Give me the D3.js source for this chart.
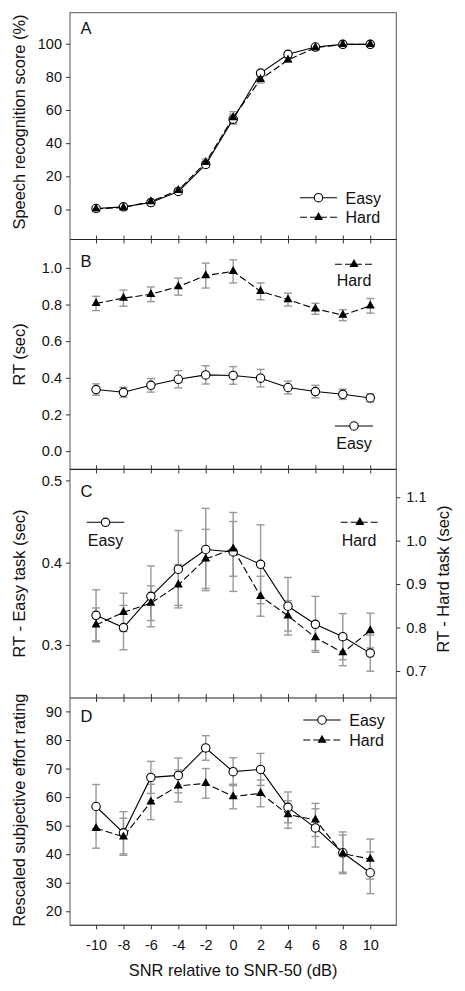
<!DOCTYPE html>
<html>
<head>
<meta charset="utf-8">
<script src="https://cdn.jsdelivr.net/npm/d3@7"></script>
<style>
  html, body { margin: 0; padding: 0; background: #fff; }
  svg { display: block; font-family: "Liberation Sans", Arial, sans-serif; }
</style>
</head>
<body>
<svg id="chart" width="465" height="991"></svg>
<script>
// ---------- data ----------
const snr = [-10, -8, -6, -4, -2, 0, 2, 4, 6, 8, 10];

const scoreEasy   = [0.6, 1.6, 4.2, 10.9, 27.2, 54.5, 82.3, 93.6, 98.0, 99.6, 99.6];
const scoreEasySE = [0.3, 0.4, 0.6, 1.0, 1.8, 3.0, 1.5, 1.0, 0.6, 0.3, 0.3];
const scoreHard   = [0.4, 1.2, 4.8, 11.6, 28.4, 55.5, 78.5, 90.2, 97.6, 99.6, 99.6];
const scoreHardSE = [0.3, 0.4, 0.6, 1.0, 2.0, 3.5, 2.2, 1.3, 0.7, 0.3, 0.3];

const rtEasy   = [0.336, 0.321, 0.359, 0.392, 0.416, 0.413, 0.398, 0.347, 0.325, 0.310, 0.290];
const rtEasySE = [0.031, 0.027, 0.037, 0.047, 0.050, 0.048, 0.048, 0.035, 0.034, 0.028, 0.022];
const rtHard   = [0.806, 0.835, 0.856, 0.898, 0.958, 0.981, 0.872, 0.827, 0.777, 0.742, 0.793];
const rtHardSE = [0.039, 0.044, 0.040, 0.047, 0.068, 0.063, 0.046, 0.035, 0.030, 0.030, 0.040];

const effortEasy   = [56.7, 47.5, 66.9, 67.6, 77.2, 68.9, 69.7, 56.4, 49.2, 40.5, 33.5];
const effortEasySE = [7.7, 7.4, 5.6, 6.1, 4.3, 4.9, 5.6, 5.4, 6.7, 7.3, 7.3];
const effortHard   = [49.1, 46.1, 58.3, 63.9, 64.8, 60.2, 61.3, 53.9, 52.0, 40.2, 38.3];
const effortHardSE = [7.0, 6.5, 6.2, 5.6, 5.2, 4.3, 4.7, 4.8, 5.8, 6.5, 7.0];

const ticksA = [0, 20, 40, 60, 80, 100];
const ticksB = [0.0, 0.2, 0.4, 0.6, 0.8, 1.0];
const ticksCLeft = [0.3, 0.4, 0.5];
const ticksCRight = [0.7, 0.8, 0.9, 1.0, 1.1];
const ticksD = [20, 30, 40, 50, 60, 70, 80, 90];

// ---------- layout ----------
const svg = d3.select("#chart");
const L = 70, R = 396.3;
const yA = [12.7, 239.5], yB = [239.5, 469.4], yC = [469.4, 698], yD = [698, 925.3];

const x = d3.scaleLinear().domain([-11.9, 11.9]).range([L, R]);
const sA = d3.scaleLinear().domain([-18.1, 118.7]).range([yA[1], yA[0]]);
const sB = d3.scaleLinear().domain([-0.1, 1.155]).range([yB[1], yB[0]]);
const sCL = d3.scaleLinear().domain([0.2354, 0.5134]).range([yC[1], yC[0]]);
const sCR = d3.scaleLinear().domain([0.6377, 1.164]).range([yC[1], yC[0]]);
const sD = d3.scaleLinear().domain([15.1, 94.7]).range([yD[1], yD[0]]);

const FS_TICK = 14.5, FS_TITLE = 16.4, FS_LEG = 16, FS_LET = 16.5;
const fmtInt = d => String(d);
const fmt1 = d => d.toFixed(1);

// frame
svg.append("rect").attr("x", L).attr("y", yA[0]).attr("width", R - L).attr("height", yD[1] - yA[0])
  .attr("fill", "none").attr("stroke", "#555").attr("stroke-width", 1);

function styleAxis(g) {
  g.select(".domain").remove();
  g.selectAll(".tick line").attr("stroke", "#333");
  g.selectAll(".tick text").attr("fill", "#111").attr("font-size", FS_TICK)
    .attr("font-family", "Liberation Sans, Arial, sans-serif");
}

// x axes at each panel bottom
[yA[1], yB[1], yC[1]].forEach(yy => {
  svg.append("line").attr("x1", L).attr("x2", R).attr("y1", yy).attr("y2", yy)
    .attr("stroke", "#222").attr("stroke-width", 1.1);
  const g = svg.append("g").attr("transform", `translate(0,${yy})`)
    .call(d3.axisBottom(x).tickValues(snr).tickSize(4).tickFormat(""));
  styleAxis(g);
  g.selectAll(".tick line").attr("y1", -4).attr("y2", 4);
});
svg.append("line").attr("x1", L).attr("x2", R).attr("y1", yD[1]).attr("y2", yD[1])
  .attr("stroke", "#444").attr("stroke-width", 1.1);
const gx = svg.append("g").attr("transform", `translate(0,${yD[1]})`)
  .call(d3.axisBottom(x).tickValues(snr).tickSize(4).tickPadding(10).tickFormat(fmtInt));
styleAxis(gx);

// y axes
function yAxis(scale, ticks, fmt) {
  const g = svg.append("g").attr("transform", `translate(${L},0)`)
    .call(d3.axisLeft(scale).tickValues(ticks).tickSize(4).tickPadding(4).tickFormat(fmt));
  styleAxis(g);
}
yAxis(sA, ticksA, fmtInt);
yAxis(sB, ticksB, fmt1);
yAxis(sCL, ticksCLeft, fmt1);
yAxis(sD, ticksD, fmtInt);
const gr = svg.append("g").attr("transform", `translate(${R},0)`)
  .call(d3.axisRight(sCR).tickValues(ticksCRight).tickSize(4).tickPadding(6).tickFormat(fmt1));
styleAxis(gr);

// axis titles
function vTitle(txt, cx, cy) {
  svg.append("text").attr("transform", `translate(${cx},${cy}) rotate(-90)`)
    .attr("text-anchor", "middle").attr("font-size", FS_TITLE).attr("fill", "#111").text(txt);
}
vTitle("Speech recognition score (%)", 25, 122);
vTitle("RT (sec)", 25, 354.5);
vTitle("RT - Easy task (sec)", 25, 583.5);
vTitle("Rescaled subjective effort rating", 25, 810);
vTitle("RT - Hard task (sec)", 449, 579);
svg.append("text").attr("x", (L + R) / 2).attr("y", 976).attr("text-anchor", "middle")
  .attr("font-size", FS_TITLE).attr("fill", "#111").text("SNR relative to SNR-50 (dB)");

// panel letters
[["A", yA[0] + 21.5], ["B", yB[0] + 27.5], ["C", yC[0] + 27.5], ["D", yD[0] + 23.5]].forEach(([t, yy]) => {
  svg.append("text").attr("x", 80.5).attr("y", yy).attr("font-size", FS_LET).attr("fill", "#111").text(t);
});

// ---------- marks ----------
const triPath = (w, h) => `M0,${-2 * h / 3}L${w / 2},${h / 3}L${-w / 2},${h / 3}Z`;
const TRI = triPath(9, 8);
const DASH = "7,3";

function errBars(vals, se, sc) {
  const g = svg.append("g").attr("stroke", "#999").attr("stroke-width", 1.4).attr("fill", "none");
  snr.forEach((s, i) => {
    const cx = x(s), y1 = sc(vals[i] + se[i]), y2 = sc(vals[i] - se[i]);
    g.append("line").attr("x1", cx).attr("x2", cx).attr("y1", y1).attr("y2", y2);
    g.append("line").attr("x1", cx - 4).attr("x2", cx + 4).attr("y1", y1).attr("y2", y1);
    g.append("line").attr("x1", cx - 4).attr("x2", cx + 4).attr("y1", y2).attr("y2", y2);
  });
}
function series(vals, sc, dashed) {
  const line = d3.line().x((d, i) => x(snr[i])).y(d => sc(d));
  svg.append("path").datum(vals).attr("d", line).attr("fill", "none")
    .attr("stroke", "#000").attr("stroke-width", 1.1)
    .attr("stroke-dasharray", dashed ? DASH : null);
}
function circles(vals, sc) {
  svg.append("g").selectAll("circle").data(vals).join("circle")
    .attr("cx", (d, i) => x(snr[i])).attr("cy", d => sc(d)).attr("r", 4.2)
    .attr("fill", "#fff").attr("stroke", "#000").attr("stroke-width", 1.1);
}
function tris(vals, sc) {
  svg.append("g").selectAll("path").data(vals).join("path")
    .attr("transform", (d, i) => `translate(${x(snr[i])},${sc(d)})`)
    .attr("d", TRI).attr("fill", "#000");
}

// Panel A
errBars(scoreEasy, scoreEasySE, sA);
errBars(scoreHard, scoreHardSE, sA);
series(scoreHard, sA, true);
series(scoreEasy, sA, false);
circles(scoreEasy, sA);
tris(scoreHard, sA);

// Panel B
errBars(rtEasy, rtEasySE, sB);
errBars(rtHard, rtHardSE, sB);
series(rtHard, sB, true);
series(rtEasy, sB, false);
circles(rtEasy, sB);
tris(rtHard, sB);

// Panel C
errBars(rtEasy, rtEasySE, sCL);
errBars(rtHard, rtHardSE, sCR);
series(rtHard, sCR, true);
series(rtEasy, sCL, false);
circles(rtEasy, sCL);
tris(rtHard, sCR);

// Panel D
errBars(effortEasy, effortEasySE, sD);
errBars(effortHard, effortHardSE, sD);
series(effortHard, sD, true);
series(effortEasy, sD, false);
circles(effortEasy, sD);
tris(effortHard, sD);

// ---------- legends ----------
function legItem(x1, x2, yy, type) {
  svg.append("line").attr("x1", x1).attr("x2", x2).attr("y1", yy).attr("y2", yy)
    .attr("stroke", "#000").attr("stroke-width", 1.1)
    .attr("stroke-dasharray", type === "hard" ? DASH : null);
  const cx = (x1 + x2) / 2;
  if (type === "easy") {
    svg.append("circle").attr("cx", cx).attr("cy", yy).attr("r", 4.2)
      .attr("fill", "#fff").attr("stroke", "#000").attr("stroke-width", 1.1);
  } else {
    svg.append("path").attr("transform", `translate(${cx},${yy})`).attr("d", TRI).attr("fill", "#000");
  }
}
function legText(t, xx, yy, anchor) {
  svg.append("text").attr("x", xx).attr("y", yy).attr("text-anchor", anchor)
    .attr("font-size", FS_LEG).attr("fill", "#111").text(t);
}
// A
legItem(300, 337, 197.7, "easy"); legText("Easy", 345.5, 203.5, "start");
legItem(300, 337, 217.3, "hard"); legText("Hard", 345.5, 223, "start");
// B
legItem(335, 373, 264.3, "hard"); legText("Hard", 354, 285.5, "middle");
legItem(335, 373, 426, "easy"); legText("Easy", 354, 449, "middle");
// C
legItem(86.7, 124.3, 522.3, "easy"); legText("Easy", 105.5, 545.5, "middle");
legItem(340.7, 379, 522.3, "hard"); legText("Hard", 359, 545.5, "middle");
// D
legItem(303.3, 340.7, 720, "easy"); legText("Easy", 349.3, 725.5, "start");
legItem(303.3, 340.7, 740, "hard"); legText("Hard", 349.3, 745.5, "start");
</script>
</body>
</html>
